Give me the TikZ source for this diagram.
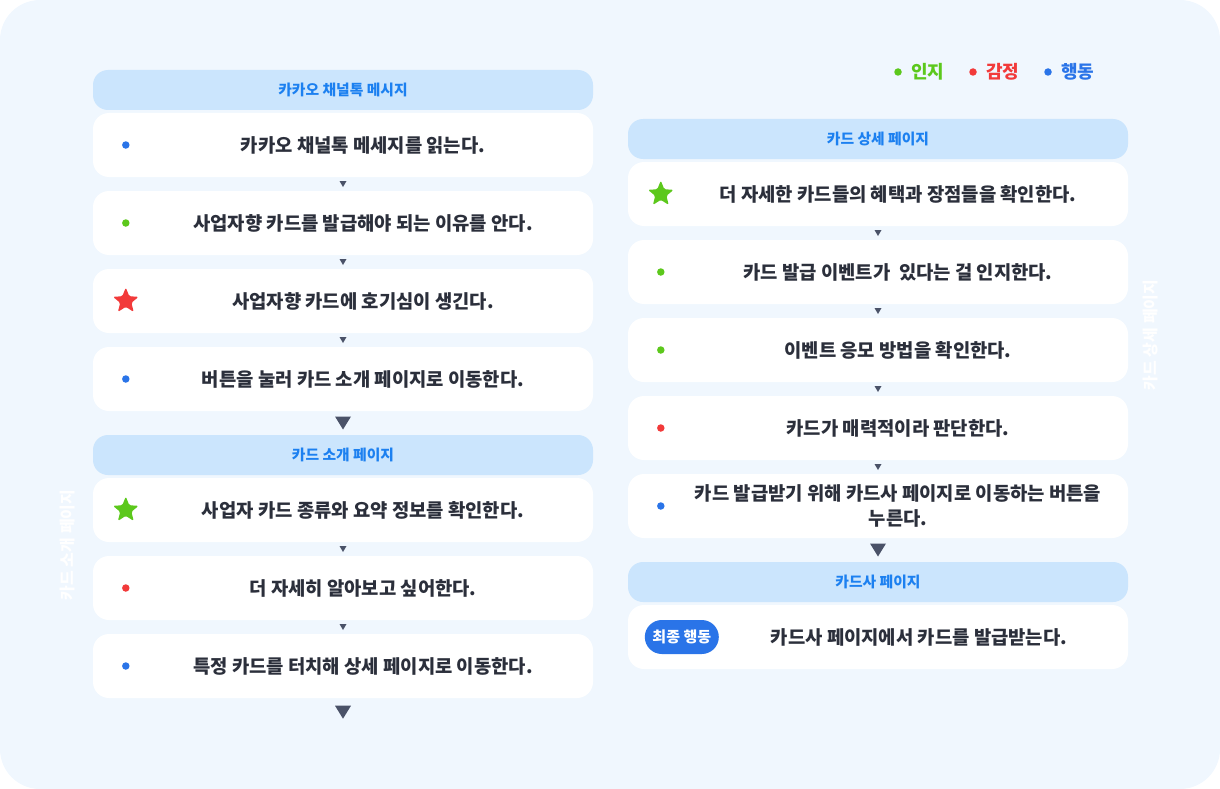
\documentclass[tikz,border=0pt]{standalone}
\usepackage{fontspec}
\setmainfont{Noto Sans CJK KR}
\usetikzlibrary{calc,shapes.geometric}
\definecolor{bgblue}{HTML}{F0F7FE}
\definecolor{headfill}{HTML}{CBE5FD}
\definecolor{headtext}{HTML}{1C80F0}
\definecolor{ink}{HTML}{2B2F3B}
\definecolor{triink}{HTML}{4A5268}
\definecolor{cblue}{HTML}{2A74E8}
\definecolor{cgreen}{HTML}{5CC81C}
\definecolor{cred}{HTML}{F23A3A}

\begin{document}
\begin{tikzpicture}[x=1pt,y=-1pt,
    card/.style={fill=white, rounded corners=16pt, minimum width=500pt, minimum height=64pt, inner sep=0pt},
    head/.style={fill=headfill, rounded corners=15pt, minimum width=500pt, minimum height=40pt, inner sep=0pt,
      text=headtext, font=\fontsize{14.8}{17}\selectfont\bfseries},
    txt/.style={text=ink, font=\fontsize{18.8}{24.5}\selectfont\bfseries, align=center, inner sep=0pt},
    icdot/.style={circle, minimum size=7.5pt, inner sep=0pt},
    icstar/.style={star, star points=5, star point ratio=2.3, minimum size=27pt, inner sep=0pt, rounded corners=1.5pt},
    tri/.style={fill=triink}]
    \fill[bgblue, rounded corners=40pt] (0,0) rectangle (1220,789);
    \useasboundingbox (0,0) rectangle (1220,789);

    % legend
    \foreach \col/\lbl [count=\i] in {cgreen/인지, cred/감정, cblue/행동}{
      \node[icdot, fill=\col] (kd\i) at ({898+75*(\i-1)},72) {};
      \node[anchor=west, inner sep=0pt, text=\col, font=\fontsize{18}{20}\selectfont\bfseries] (kt\i) at ($(kd\i.east)+(9,0)$) {\lbl};
    }

    % side labels
    \node[rotate=90, text=white, font=\fontsize{16}{18}\selectfont\bfseries] (vl) at (68,545) {카드 소개 페이지};
    \node[rotate=90, text=white, font=\fontsize{16}{18}\selectfont\bfseries] (vr) at (1150,335) {카드 상세 페이지};

    % left column
    \node[head] (lh1) at (343,90) {카카오 채널톡 메시지};
    \coordinate (s) at (343,145);
    \foreach \shp/\col/\txt [count=\i] in {icdot/cblue/카카오 채널톡 메세지를 읽는다.,
        icdot/cgreen/사업자향 카드를 발급해야 되는 이유를 안다.,
        icstar/cred/사업자향 카드에 호기심이 생긴다.,
        icdot/cblue/버튼을 눌러 카드 소개 페이지로 이동한다.}{
      \node[card] (l\i) at (s) {};
      \node[\shp, fill=\col] (li\i) at ($(l\i.west)+(33,0)$) {};
      \node[txt] (lt\i) at ($(l\i.center)+(20,0)$) {\txt};
      \coordinate (s) at ($(s)+(0,78)$);
    }
    \node[head] (lh2) at (343,455) {카드 소개 페이지};
    \coordinate (s) at (343,510);
    \foreach \shp/\col/\txt [count=\i from 5] in {icstar/cgreen/사업자 카드 종류와 요약 정보를 확인한다.,
        icdot/cred/더 자세히 알아보고 싶어한다.,
        icdot/cblue/특정 카드를 터치해 상세 페이지로 이동한다.}{
      \node[card] (l\i) at (s) {};
      \node[\shp, fill=\col] (li\i) at ($(l\i.west)+(33,0)$) {};
      \node[txt] (lt\i) at ($(l\i.center)+(20,0)$) {\txt};
      \coordinate (s) at ($(s)+(0,78)$);
    }

    % right column
    \node[head] (rh1) at (878,139) {카드 상세 페이지};
    \coordinate (s) at (878,194);
    \foreach \shp/\col/\txt [count=\i] in {icstar/cgreen/더 자세한 카드들의 혜택과 장점들을 확인한다.,
        icdot/cgreen/카드 발급 이벤트가 \ 있다는 걸 인지한다.,
        icdot/cgreen/이벤트 응모 방법을 확인한다.,
        icdot/cred/카드가 매력적이라 판단한다.,
        icdot/cblue/카드 발급받기 위해 카드사 페이지로 이동하는 버튼을\\누른다.}{
      \node[card] (r\i) at (s) {};
      \node[\shp, fill=\col] (ri\i) at ($(r\i.west)+(33,0)$) {};
      \node[txt] (rt\i) at ($(r\i.center)+(20,0)$) {\txt};
      \coordinate (s) at ($(s)+(0,78)$);
    }
    \node[head] (rh2) at (878,582) {카드사 페이지};
    \node[card] (r6) at (878,637) {};
    \node[fill=cblue, rounded corners=17pt, minimum width=74pt, minimum height=34pt, inner sep=0pt,
      text=white, font=\fontsize{15}{17}\selectfont\bfseries] (badge) at ($(r6.west)+(54,0)$) {최종 행동};
    \node[txt] (rt6) at ($(r6.center)+(41,0)$) {카드사 페이지에서 카드를 발급받는다.};

    % small markers between cards
    \foreach \a/\b in {l1/l2, l2/l3, l3/l4, l5/l6, l6/l7, r1/r2, r2/r3, r3/r4, r4/r5}{
      \fill[tri] ($(\a.south)!0.5!(\b.north)$) +(-3.5,-3) -- +(3.5,-3) -- +(0,3) -- cycle;
    }
    % big markers
    \foreach \a/\b in {l4/lh2, r5/rh2}{
      \fill[tri] ($(\a.south)!0.5!(\b.north)$) +(-8,-6.5) -- +(8,-6.5) -- +(0,6.5) -- cycle;
    }
    \coordinate (lend) at ($(l7.south)+(0,14)$);
    \fill[tri] (lend) +(-8,-6.5) -- +(8,-6.5) -- +(0,6.5) -- cycle;
\end{tikzpicture}
\end{document}
